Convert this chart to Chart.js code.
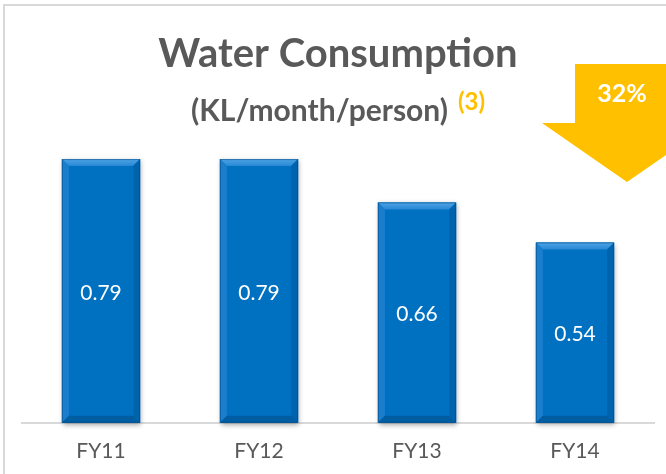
<!DOCTYPE html>
<html>
<head>
<meta charset="utf-8">
<script src="https://cdn.jsdelivr.net/npm/chart.js@4"></script>
<style>
  html, body { margin: 0; padding: 0; background: #fff; overflow: hidden; }
  #wrap { width: 666px; height: 474px; position: relative; }
</style>
</head>
<body>
<div id="wrap"><canvas id="myChart" width="666" height="474"></canvas></div>
<script>
// données du graphique
var categories = ['FY11', 'FY12', 'FY13', 'FY14'];
var consumption = [0.79, 0.79, 0.66, 0.54];
var reductionLabel = '32%';
var titleText = 'Water Consumption';
var subtitleText = '(KL/month/person)';
var noteText = '(3)';

var FONT = 'Lato, "Open Sans", sans-serif';
var GREY = '#595959';
var ORANGE = '#FFC000';

// cadre, titres, flèche et effet biseauté des barres
var decorPlugin = {
    id: 'decor',
    beforeDatasetsDraw: function (chart) {
        var ctx = chart.ctx;
        var meta = chart.getDatasetMeta(0);
        ctx.save();
        meta.data.forEach(function (bar) {
            var L = bar.x - bar.width / 2, R = bar.x + bar.width / 2;
            ctx.shadowColor = 'rgba(0,0,0,0.35)';
            ctx.shadowBlur = 5;
            ctx.shadowOffsetX = 1;
            ctx.shadowOffsetY = 2;
            ctx.fillStyle = '#0070C0';
            ctx.fillRect(L, bar.y, R - L, bar.base - bar.y);
        });
        ctx.restore();
    },
    afterDatasetsDraw: function (chart) {
        var ctx = chart.ctx;
        var meta = chart.getDatasetMeta(0);
        var b = 7;
        ctx.save();
        meta.data.forEach(function (bar, i) {
            var L = bar.x - bar.width / 2, R = bar.x + bar.width / 2;
            var T = bar.y, B = bar.base;
            // haut
            var g = ctx.createLinearGradient(0, T, 0, T + b);
            g.addColorStop(0, '#4fa4e6');
            g.addColorStop(1, '#2787d4');
            ctx.fillStyle = g;
            ctx.beginPath();
            ctx.moveTo(L, T); ctx.lineTo(R, T); ctx.lineTo(R - b, T + b); ctx.lineTo(L + b, T + b);
            ctx.closePath(); ctx.fill();
            // gauche
            ctx.fillStyle = '#1a7ecc';
            ctx.beginPath();
            ctx.moveTo(L, T); ctx.lineTo(L + b, T + b); ctx.lineTo(L + b, B - b); ctx.lineTo(L, B);
            ctx.closePath(); ctx.fill();
            // droite
            ctx.fillStyle = '#0063ad';
            ctx.beginPath();
            ctx.moveTo(R, T); ctx.lineTo(R, B); ctx.lineTo(R - b, B - b); ctx.lineTo(R - b, T + b);
            ctx.closePath(); ctx.fill();
            // bas
            ctx.fillStyle = '#005da2';
            ctx.beginPath();
            ctx.moveTo(L, B); ctx.lineTo(R, B); ctx.lineTo(R - b, B - b); ctx.lineTo(L + b, B - b);
            ctx.closePath(); ctx.fill();
            ctx.strokeStyle = 'rgba(0,70,130,0.5)';
            ctx.lineWidth = 1;
            ctx.strokeRect(L + 0.5, T + 0.5, R - L - 1, B - T - 1);
            // valeur
            ctx.fillStyle = '#ffffff';
            ctx.font = '21px ' + FONT;
            ctx.textAlign = 'center';
            ctx.textBaseline = 'middle';
            ctx.fillText(consumption[i].toFixed(2), bar.x, (T + B) / 2 + 2);
        });
        ctx.restore();
    },
    afterDraw: function (chart) {
        var ctx = chart.ctx;
        ctx.save();
        // cadre gris
        ctx.strokeStyle = '#d9d9d9';
        ctx.lineWidth = 2;
        ctx.beginPath();
        ctx.moveTo(4, 474); ctx.lineTo(4, 5); ctx.lineTo(666, 5);
        ctx.stroke();

        // titre
        ctx.fillStyle = GREY;
        ctx.textAlign = 'center';
        ctx.textBaseline = 'alphabetic';
        ctx.font = 'bold 40px ' + FONT;
        ctx.fillText(titleText, 338, 67);
        ctx.font = 'bold 30px ' + FONT;
        ctx.textAlign = 'left';
        ctx.fillText(subtitleText, 191, 121);
        var w = ctx.measureText(subtitleText).width;
        ctx.fillStyle = ORANGE;
        ctx.font = 'bold 24px ' + FONT;
        ctx.fillText(noteText, 191 + w + 10, 110);

        // flèche de baisse
        ctx.fillStyle = ORANGE;
        ctx.beginPath();
        ctx.moveTo(575, 64); ctx.lineTo(679, 64); ctx.lineTo(679, 123); ctx.lineTo(712, 123);
        ctx.lineTo(627, 182); ctx.lineTo(542, 123); ctx.lineTo(575, 123);
        ctx.closePath(); ctx.fill();
        ctx.fillStyle = '#ffffff';
        ctx.font = 'bold 25px ' + FONT;
        ctx.textAlign = 'center';
        ctx.textBaseline = 'middle';
        ctx.fillText(reductionLabel, 622, 94);
        ctx.restore();
    }
};

var ctx = document.getElementById('myChart').getContext('2d');
var myChart = new Chart(ctx, {
    type: 'bar',
    data: {
        labels: categories,
        datasets: [{
            data: consumption,
            backgroundColor: '#0070C0',
            borderWidth: 0,
            categoryPercentage: 1,
            barPercentage: 0.495
        }]
    },
    options: {
        responsive: false,
        animation: false,
        layout: { padding: { left: 22, right: 12, top: 89, bottom: -6 } },
        plugins: {
            legend: { display: false },
            title: { display: false },
            tooltip: { enabled: false }
        },
        scales: {
            x: {
                grid: { display: false, drawTicks: false },
                border: { display: true, color: '#d9d9d9', width: 2 },
                ticks: { color: GREY, font: { family: FONT, size: 21 }, padding: 16 }
            },
            y: {
                display: false,
                min: 0,
                max: 1.0
            }
        }
    },
    plugins: [decorPlugin]
});
</script>
</body>
</html>
